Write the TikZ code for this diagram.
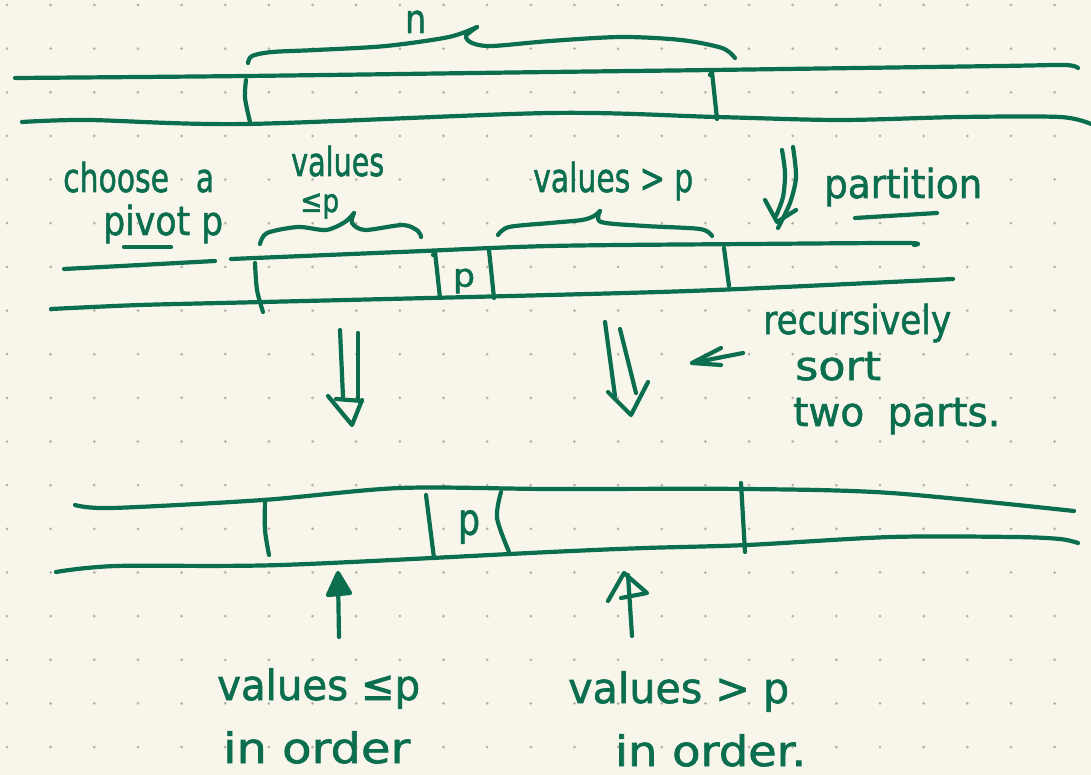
\documentclass[tikz,border=0pt]{standalone}
\usepackage{fontspec}
\setmainfont{DejaVu Sans}[FakeBold=1.5]
\usepackage{graphicx}
\definecolor{paper}{HTML}{F8F6EA}
\definecolor{ink}{HTML}{0B6E4F}
\definecolor{dotc}{HTML}{B3B2AA}
% text squeezed or stretched to a given width, height kept
\newcommand{\hw}[2]{\resizebox{#1pt}{\height}{#2}}

\begin{document}
\begin{tikzpicture}[x=1pt,y=-1pt,
  pen/.style={draw=ink, line width=4.2pt, line cap=round, line join=round},
  lbl/.style={inner sep=0pt, anchor=base west, text=ink, font=\fontsize{40}{40}\selectfont},
  biglbl/.style={lbl, font=\fontsize{42}{42}\selectfont},
  cell/.style={inner sep=0pt, text=ink, font=\fontsize{32}{32}\selectfont}]

% paper with dot grid
\fill[paper] (0,0) rectangle (1091,775);
\useasboundingbox (0,0) rectangle (1091,775);
\foreach \i in {0,...,24}
  \foreach \j in {0,...,17}
    \fill[dotc] (7+43.65*\i, 5+43.65*\j) circle (1.5pt);

% ---------- input array ----------
\draw[pen] plot[smooth] coordinates {(15,78) (246,76) (550,72) (712,70) (1000,66) (1065,65) (1078,68)};
\draw[pen] plot[smooth] coordinates {(22,122) (88,120) (246,124) (550,113) (716,117) (840,120) (960,117) (1060,117) (1091,124)};
\draw[pen] plot[smooth] coordinates {(246,80) (245,98) (250,122)};
\draw[pen] (710,75) -- (712,72) -- (717,119);
% brace over the n elements
\draw[pen] plot[smooth] coordinates {(248,63) (252,56) (272,52) (316,50) (386,46) (449,37) (477,27)};
\draw[pen] plot[smooth] coordinates {(477,27) (466,36) (472,43) (492,46) (550,41) (621,37) (681,40) (722,48) (735,58)};
\node[lbl] (n) at (405,33) {\hw{21}{n}};

% ---------- partitioned array ----------
\draw[pen] plot[smooth] coordinates {(64,269) (140,265) (215,261)};
\draw[pen] plot[smooth] coordinates {(231,259) (400,252) (550,246) (750,244) (905,243) (914,245)};
\draw[pen] plot[smooth] coordinates {(51,309) (140,305) (263,302) (550,295) (716,290) (953,279)};
\draw[pen] plot[smooth] coordinates {(255,263) (257,290) (263,312)};
\draw[pen] (433,255) -- (435,252) -- (440,298);
\draw[pen] (489,250) -- (494,298);
\draw[pen] (724,248) -- (729,286);
\node[cell] (pmid) at (464,281) {\hw{22}{p}};
% braces over the two parts
\draw[pen] plot[smooth] coordinates {(260,244) (267,233) (298,227) (326,230) (345,222) (354,213)};
\draw[pen] plot[smooth] coordinates {(354,213) (352,223) (365,230) (403,225) (418,231) (421,237)};
\draw[pen] plot[smooth] coordinates {(498,235) (509,227) (550,223) (582,220) (594,216) (600,211)};
\draw[pen] plot[smooth] coordinates {(600,211) (601,222) (645,226) (700,229) (712,236)};
\node[lbl] (vle) at (291,176) {\hw{93}{values}};
\node[lbl, font=\fontsize{32}{32}\selectfont] (le) at (300,212) {\hw{39}{≤p}};
\node[lbl] (vgt) at (533,192) {\hw{160}{values > p}};
\node[lbl] (choose) at (63,192) {\hw{151}{choose\hspace{0.9em}a}};
\node[lbl] (pivot) at (103,235) {\hw{120}{pivot p}};
\draw[pen] (124,247) -- (171,247);

% partition step
\coordinate (pa1) at (782,150);
\coordinate (pa2) at (793,147);
\coordinate (patip) at (777,222);
\draw[pen] plot[smooth] coordinates {(pa1) (785,173) (783,197) (776,216)};
\draw[pen] plot[smooth] coordinates {(pa2) (796,177) (790,203) (778,228)};
\draw[pen] (765,200) -- (patip) -- (796,210);
\node[lbl] (partition) at (824,198) {\hw{158}{partition}};
\draw[pen] (855,218) -- (937,213);

% recursive calls
\coordinate (l1a) at (340,330); \coordinate (l1b) at (343,397);
\coordinate (l2a) at (358,333); \coordinate (l2b) at (358,399);
\draw[pen] (l1a) -- (l1b);
\draw[pen] (l2a) -- (l2b);
\draw[pen] (336,399) -- (362,401);
\draw[pen] (328,396) -- (352,425) -- (362,400);

\coordinate (r1a) at (605,322); \coordinate (r1b) at (615,396);
\coordinate (r2a) at (620,329); \coordinate (r2b) at (636,393);
\draw[pen] (r1a) -- (r1b);
\draw[pen] (r2a) -- (r2b);
\draw[pen] (608,392) -- (631,415) -- (648,382);

\node[lbl] (rec) at (763,334) {\hw{188}{recursively}};
\node[lbl] (sort) at (795,380) {\hw{86}{sort}};
\node[lbl] (two) at (793,426) {\hw{207}{two\hspace{0.6em}parts.}};
\coordinate (sa) at (743,353);
\coordinate (sb) at (692,363);
\draw[pen] (sa) -- (sb);
\draw[pen] (721,348) -- (sb) -- (721,365);

% ---------- sorted array ----------
\draw[pen] plot[smooth] coordinates {(75,505) (112,508) (263,500) (400,488) (550,489) (747,489) (891,493) (1074,511)};
\draw[pen] plot[smooth] coordinates {(56,572) (116,566) (281,565) (550,552) (645,548) (747,545) (891,537) (1014,537) (1060,539) (1078,543)};
\draw[pen] plot[smooth] coordinates {(265,500) (265,530) (269,555)};
\draw[pen] (426,495) -- (434,558);
\draw[pen] plot[smooth] coordinates {(501,492) (497,518) (509,552)};
\draw[pen] (741,483) -- (745,552);
\node[cell, font=\fontsize{44}{44}\selectfont] (pbot) at (469,527) {\hw{22}{p}};

% pointers to the sorted parts
\coordinate (ua) at (339,637); \coordinate (ub) at (338,578);
\draw[pen] (ua) -- (ub);
\filldraw[pen, fill=ink] (328,595) -- (338,573) -- (350,593) -- cycle;
\coordinate (va) at (632,636); \coordinate (vb) at (628,575);
\draw[pen] (va) -- (vb);
\draw[pen] (608,601) -- (624,573) -- (647,593) -- (621,598);

\node[biglbl] (vle2) at (217,700) {\hw{203}{values ≤p}};
\node[biglbl] (ord1) at (223,763) {\hw{187}{in order}};
\node[biglbl] (vgt2) at (568,703) {\hw{221}{values > p}};
\node[biglbl] (ord2) at (615,766) {\hw{191}{in order.}};
\end{tikzpicture}
\end{document}
